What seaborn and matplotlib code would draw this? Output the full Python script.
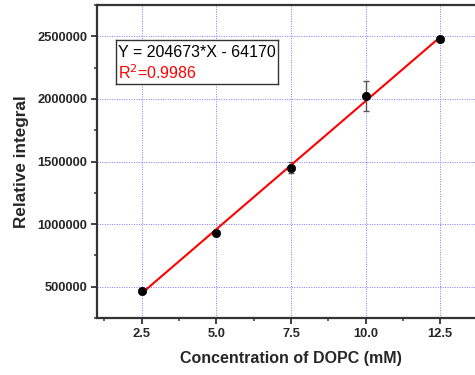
import numpy as np
import pandas as pd
import matplotlib
matplotlib.use("Agg")
import matplotlib.pyplot as plt
from matplotlib.ticker import MultipleLocator
import seaborn as sns

# Calibration data: DOPC concentration vs. relative integral
concentration = [2.5, 5.0, 7.5, 10.0, 12.5]
integral = [468000, 928000, 1450000, 2020000, 2482000]
integral_err = [12000, 15000, 45000, 120000, 0]

# Linear fit parameters
slope = 204673
intercept = -64170
r_squared = 0.9986

x_ticks = [2.5, 5.0, 7.5, 10.0, 12.5]
y_ticks = [500000, 1000000, 1500000, 2000000, 2500000]

sns.set_style("white")
plt.rcParams["font.family"] = ["Liberation Sans", "DejaVu Sans"]

fig = plt.figure(figsize=(4.75, 3.75), dpi=100)
ax = fig.add_axes([97 / 475, 1 - 318 / 375, 388 / 475, 313 / 375])

df = pd.DataFrame({"conc": concentration, "val": integral})
fit_x = [concentration[0], concentration[-1]]
fit = pd.DataFrame({"conc": fit_x, "val": [slope * v + intercept for v in fit_x]})

ax.errorbar(concentration, integral, yerr=integral_err, fmt="none",
            ecolor="#555555", elinewidth=1.0, capsize=2.5, capthick=1.0, zorder=3)
sns.lineplot(data=fit, x="conc", y="val", color="red", linewidth=1.5, ax=ax, zorder=4)
sns.scatterplot(data=df, x="conc", y="val", color="black", s=36, edgecolor="black",
                linewidth=0.5, ax=ax, zorder=5)

ax.set_xlim(1.0, 14.0)
ax.set_ylim(250000, 2750000)
ax.set_xticks(x_ticks)
ax.set_xticklabels([f"{v:.1f}" for v in x_ticks])
ax.set_yticks(y_ticks)
ax.set_yticklabels([str(v) for v in y_ticks])
ax.xaxis.set_minor_locator(MultipleLocator(1.25))
ax.yaxis.set_minor_locator(MultipleLocator(250000))

ax.grid(True, which="major", color="#7a7aff", linestyle=(0, (1, 1.5)), linewidth=0.7)
ax.set_axisbelow(True)

for side in ["left", "bottom", "top"]:
    ax.spines[side].set_visible(True)
    ax.spines[side].set_linewidth(1.6)
    ax.spines[side].set_color("#333333")
ax.spines["right"].set_visible(False)

ax.tick_params(axis="both", which="major", direction="out", length=4, width=1.3,
               color="#333333", labelsize=9.3, pad=3)
ax.tick_params(axis="both", which="minor", direction="out", length=2.5, width=1.1,
               color="#333333")
ax.tick_params(bottom=True, left=True, which="both")
for lbl in ax.get_xticklabels() + ax.get_yticklabels():
    lbl.set_fontweight("bold")

ax.set_xlabel("Concentration of DOPC (mM)", fontsize=11.5, fontweight="bold", labelpad=8)
ax.set_ylabel("Relative integral", fontsize=12.3, fontweight="bold", labelpad=6)

# Fit equation box
box_ax = fig.add_axes([116 / 475, 1 - 84 / 375, 162 / 475, 44 / 375])
box_ax.set_xticks([])
box_ax.set_yticks([])
box_ax.set_facecolor("white")
for s in box_ax.spines.values():
    s.set_visible(True)
    s.set_color("#333333")
    s.set_linewidth(1.0)
box_ax.text(0.015, 0.72, f"Y = {slope}*X - {-intercept}", fontsize=11.5,
            color="black", va="center", ha="left", transform=box_ax.transAxes)
box_ax.text(0.015, 0.25, f"R$^2$={r_squared}", fontsize=11.5,
            color="red", va="center", ha="left", transform=box_ax.transAxes)

fig.savefig("out.png", dpi=100)
